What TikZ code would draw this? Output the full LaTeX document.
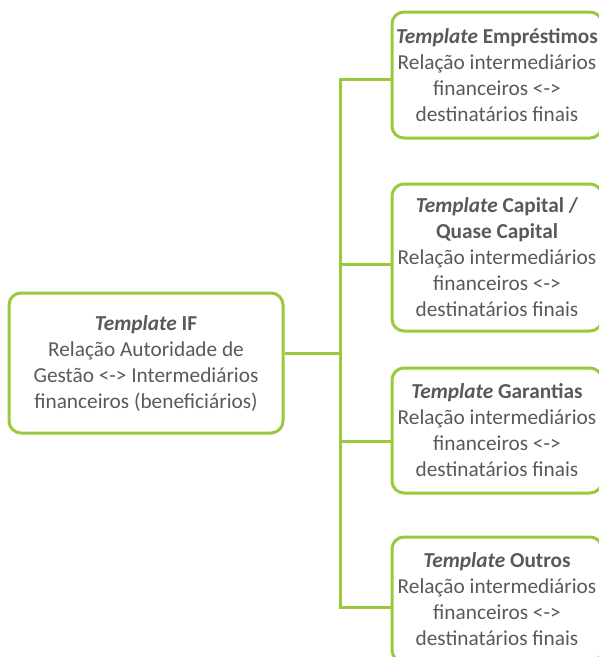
\documentclass[tikz,border=0pt]{standalone}
\usepackage{fontspec}
\setmainfont{Carlito}
\definecolor{lgreen}{RGB}{153,202,60}
\definecolor{tgray}{RGB}{89,89,89}
\begin{document}
\begin{tikzpicture}[x=1pt,y=-1pt,
 box/.style={draw=lgreen, line width=3pt, rounded corners=12pt, align=center, text=tgray, font=\fontsize{21.3}{26}\selectfont, inner sep=0pt},
 rbox/.style={box, minimum width=210pt},
 conn/.style={draw=lgreen, line width=3pt}]
\useasboundingbox (0,0) rectangle (599,657);
\node[box, minimum width=274pt, minimum height=140pt] (L) at (146,363) {\textbf{\textit{Template} IF}\\Relação Autoridade de\\Gestão <-> Intermediários\\financeiros (beneficiários)};
\node[rbox, minimum height=126pt] (R1) at (497,75) {\textbf{\textit{Template} Empréstimos}\\Relação intermediários\\financeiros <->\\destinatários finais};
\node[rbox, minimum height=147pt] (R2) at (497,257.5) {\textbf{\textit{Template} Capital /}\\\textbf{Quase Capital}\\Relação intermediários\\financeiros <->\\destinatários finais};
\node[rbox, minimum height=125pt] (R3) at (497,430.5) {\textbf{\textit{Template} Garantias}\\Relação intermediários\\financeiros <->\\destinatários finais};
\node[rbox, minimum height=125pt] (R4) at (497,599.5) {\textbf{\textit{Template} Outros}\\Relação intermediários\\financeiros <->\\destinatários finais};
\coordinate (J0) at (340,353);
\coordinate (J1) at (340,79);
\coordinate (J2) at (340,264);
\coordinate (J3) at (340,441);
\coordinate (J4) at (340,607);
\draw[conn] (J0 -| L.east) -- (J0);
\draw[conn] (J1 -| R1.west) -- (J1) -- (J4) -- (J4 -| R4.west);
\draw[conn] (J2) -- (J2 -| R2.west);
\draw[conn] (J3) -- (J3 -| R3.west);
\end{tikzpicture}
\end{document}
